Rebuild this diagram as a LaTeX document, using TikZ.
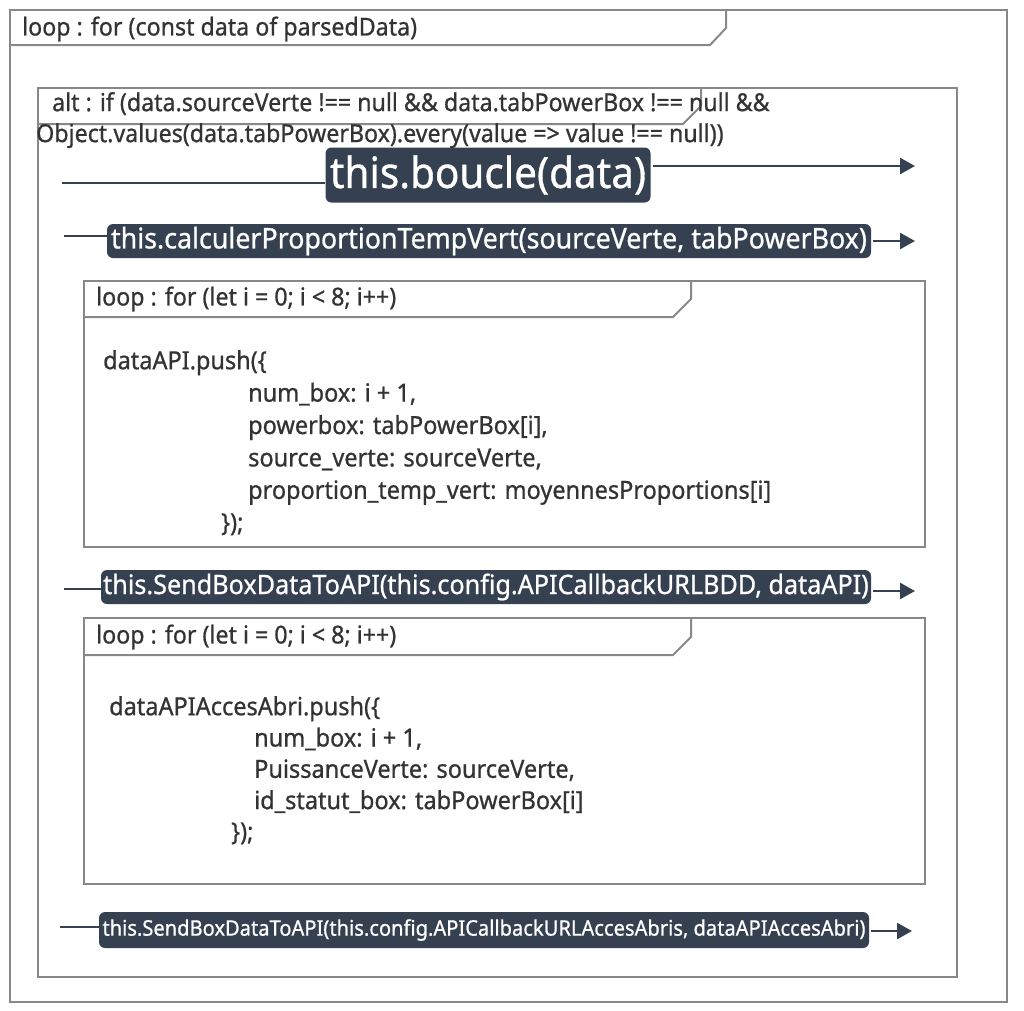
\documentclass[tikz,border=0pt]{standalone}
\usepackage{fontspec}
\setmainfont[FakeStretch=0.94,FakeBold=0.8]{Noto Sans}
\usetikzlibrary{positioning,arrows.meta}
\definecolor{framegray}{HTML}{888888}
\definecolor{slate}{HTML}{354050}
\definecolor{inkgray}{HTML}{333333}

\begin{document}
\begin{tikzpicture}
  [x=1pt,y=-1pt,
   frame/.style={draw=framegray, line width=2pt},
   tab label/.style={anchor=west, inner sep=0pt, text=inkgray, font=\fontsize{24.7}{31}\selectfont},
   call/.style={fill=slate, rounded corners=6pt, text=white, inner sep=0pt,
       minimum width=#1},
   msg/.style={draw=slate, line width=2.5pt},
   reply/.style={msg, shorten <=2pt, -{Triangle[length=15pt,width=16pt]}},
   code/.style={anchor=north west, align=left, inner sep=0pt, text=inkgray}
  ]
  \useasboundingbox (0,0) rectangle (1024,1010);

  % outer loop frame
  \draw[frame] (10,10) rectangle (1007,1002);
  \draw[frame] (10,45) -- (710,45) -- (726,28) -- (726,10);
  \node (outerlabel) [tab label] at (22,29) {loop : for (const data of parsedData)};

  % alt frame
  \draw[frame] (38,88) rectangle (957,977);
  \draw[frame] (38,124) -- (683,124) -- (701,106) -- (701,88);
  \node (altlabel) [tab label, anchor=north west, align=left] at (36,92)
    {\hspace*{16pt}alt : if (data.sourceVerte !== null \&\& data.tabPowerBox !== null \&\&\\
     Object.values(data.tabPowerBox).every(value => value !== null))};

  % calls
  \node (boucle) [call=325pt, minimum height=55pt, font=\fontsize{43}{45}\selectfont]
    at (488,175) {this.boucle(data)};
  \node (calcul) [call=764pt, minimum height=34pt, font=\fontsize{28.5}{30}\selectfont]
    at (489,241) {this.calculerProportionTempVert(sourceVerte, tabPowerBox)};
  \node (sendbdd) [call=770pt, minimum height=34pt, font=\fontsize{26.8}{28}\selectfont]
    at (486,587) {this.SendBoxDataToAPI(this.config.APICallbackURLBDD, dataAPI)};
  \node (sendabri) [call=770pt, minimum height=36pt, font=\fontsize{21.4}{23}\selectfont]
    at (484,930) {this.SendBoxDataToAPI(this.config.APICallbackURLAccesAbris, dataAPIAccesAbri)};

  % message ends
  \coordinate (boucleIn) at (62,183);
  \coordinate (boucleOut) at (915,166);
  \coordinate (calculIn) at (64,236);
  \coordinate (calculOut) at (915,241);
  \coordinate (sendbddIn) at (64,589);
  \coordinate (sendbddOut) at (915,591);
  \coordinate (sendabriIn) at (60,927);
  \coordinate (sendabriOut) at (912,931);

  \foreach \n in {boucle,calcul,sendbdd,sendabri}{
    \draw[msg] (\n In) -- (\n In -| \n.west);
    \draw[reply] (\n Out -| \n.east) -- (\n Out);
  }

  % first inner loop
  \draw[frame] (84,281) rectangle (925,547);
  \draw[frame] (84,317) -- (673,317) -- (691,299) -- (691,281);
  \node (looplabel1) [tab label] at (96,299) {loop : for (let i = 0; i < 8; i++)};
  \node (pushapi) [code, font=\fontsize{25}{32.4}\selectfont] at (103,350)
    {dataAPI.push(\{\\
     \hspace*{145pt}num\_box: i + 1,\\
     \hspace*{145pt}powerbox: tabPowerBox[i],\\
     \hspace*{145pt}source\_verte: sourceVerte,\\
     \hspace*{145pt}proportion\_temp\_vert: moyennesProportions[i]\\
     \hspace*{118pt}\});};

  % second inner loop
  \draw[frame] (84,618) rectangle (925,884);
  \draw[frame] (84,655) -- (673,655) -- (691,637) -- (691,618);
  \node (looplabel2) [tab label] at (96,637) {loop : for (let i = 0; i < 8; i++)};
  \node (pushabri) [code, font=\fontsize{25}{31.3}\selectfont] at (109,696)
    {dataAPIAccesAbri.push(\{\\
     \hspace*{145pt}num\_box: i + 1,\\
     \hspace*{145pt}PuissanceVerte: sourceVerte,\\
     \hspace*{145pt}id\_statut\_box: tabPowerBox[i]\\
     \hspace*{122pt}\});};
\end{tikzpicture}
\end{document}
